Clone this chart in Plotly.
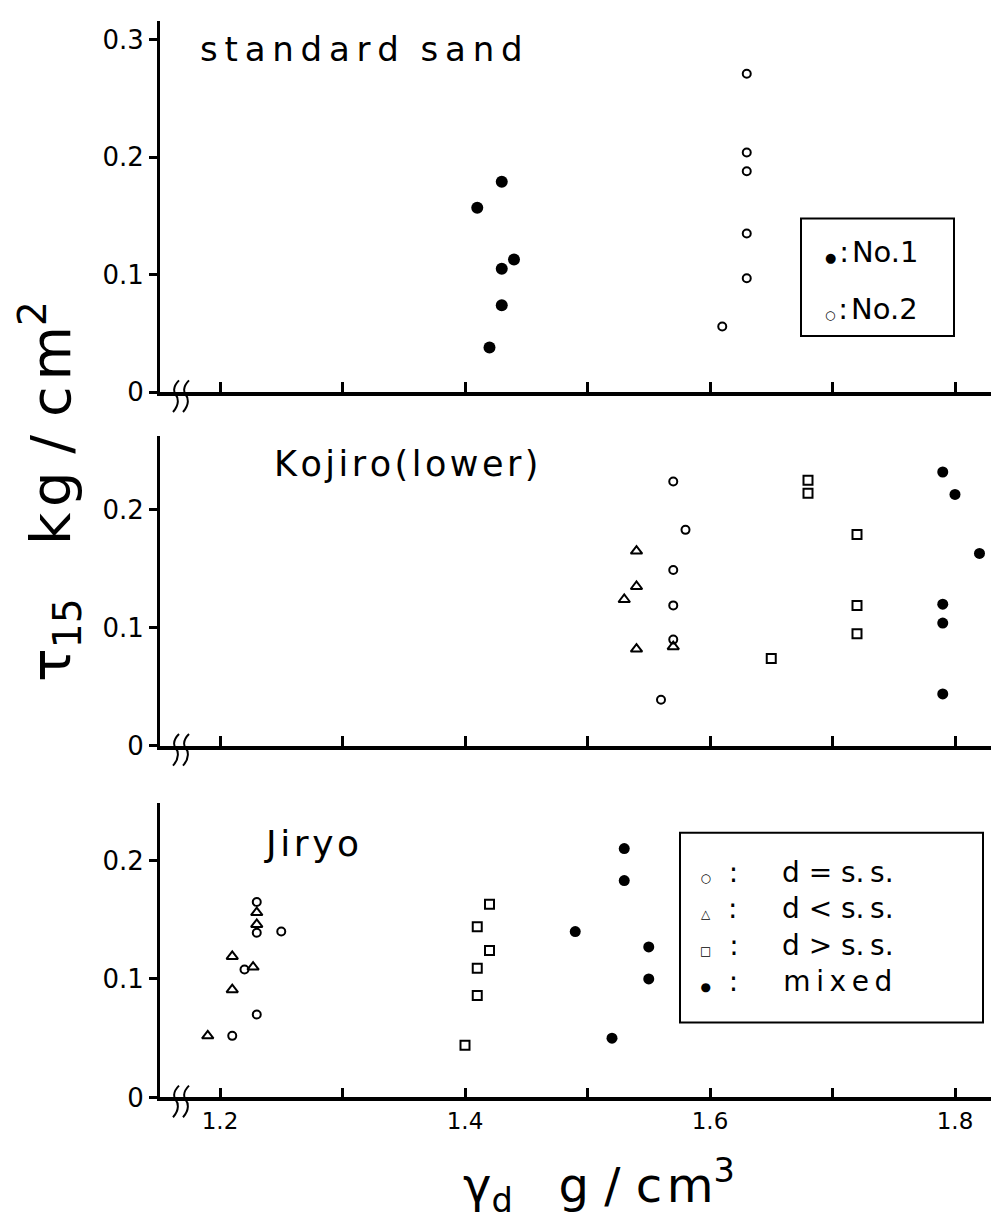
import plotly.graph_objects as go

W, H = 999, 1225

# ---------------- data ----------------
# standard sand
std_no1_x = [1.43, 1.41, 1.44, 1.43, 1.43, 1.42]
std_no1_y = [0.179, 0.157, 0.113, 0.105, 0.074, 0.038]
std_no2_x = [1.63, 1.63, 1.63, 1.63, 1.63, 1.61]
std_no2_y = [0.271, 0.204, 0.188, 0.135, 0.097, 0.056]

# Kojiro (lower)
koj_eq_x = [1.57, 1.58, 1.57, 1.57, 1.57, 1.56]
koj_eq_y = [0.224, 0.183, 0.149, 0.119, 0.090, 0.039]
koj_lt_x = [1.54, 1.54, 1.53, 1.54, 1.57]
koj_lt_y = [0.165, 0.135, 0.124, 0.082, 0.084]
koj_gt_x = [1.68, 1.68, 1.72, 1.72, 1.72, 1.65]
koj_gt_y = [0.225, 0.214, 0.179, 0.119, 0.095, 0.074]
koj_mx_x = [1.79, 1.80, 1.82, 1.79, 1.79, 1.79]
koj_mx_y = [0.232, 0.213, 0.163, 0.120, 0.104, 0.044]

# Jiryo
jir_eq_x = [1.23, 1.23, 1.25, 1.22, 1.23, 1.21]
jir_eq_y = [0.165, 0.139, 0.140, 0.108, 0.070, 0.052]
jir_lt_x = [1.23, 1.23, 1.21, 1.227, 1.21, 1.19]
jir_lt_y = [0.156, 0.146, 0.119, 0.110, 0.091, 0.052]
jir_gt_x = [1.42, 1.41, 1.42, 1.41, 1.41, 1.40]
jir_gt_y = [0.163, 0.144, 0.124, 0.109, 0.086, 0.044]
jir_mx_x = [1.53, 1.53, 1.49, 1.55, 1.55, 1.52]
jir_mx_y = [0.210, 0.183, 0.140, 0.127, 0.100, 0.050]

x_ticks = [1.2, 1.4, 1.6, 1.8]
x_ticktext = ["1.2", "1.4", "1.6", "1.8"]
top_yticks = [0, 0.1, 0.2, 0.3]
top_yticktext = ["0", "0.1", "0.2", "0.3"]
low_yticks = [0, 0.1, 0.2]
low_yticktext = ["0", "0.1", "0.2"]

# ---------------- helpers ----------------
def px(x):
    return x / W

def py(y):
    return 1 - y / H

FONT = "DejaVu Sans"
BLACK = "black"
HS = "\u200a"  # hair space for letter spacing


def spaced(s, sep=HS):
    return sep.join(list(s))


fig = go.Figure()


def add(xs, ys, sym, size, axis, lw=2):
    filled = not sym.endswith("open")
    fig.add_trace(go.Scatter(
        x=xs, y=ys, mode="markers", xaxis="x" + axis, yaxis="y" + axis,
        showlegend=False, hoverinfo="skip",
        marker=dict(symbol=sym, size=size, color=BLACK,
                    line=dict(color=BLACK, width=(0 if filled else lw))),
    ))


# top panel
add(std_no1_x, std_no1_y, "circle", 12, "")
add(std_no2_x, std_no2_y, "circle-open", 8, "")
# middle panel
add(koj_eq_x, koj_eq_y, "circle-open", 8, "2")
add(koj_lt_x, koj_lt_y, "triangle-up-open", 10, "2")
add(koj_gt_x, koj_gt_y, "square-open", 9, "2")
add(koj_mx_x, koj_mx_y, "circle", 11, "2")
# bottom panel
add(jir_eq_x, jir_eq_y, "circle-open", 8, "3")
add(jir_lt_x, jir_lt_y, "triangle-up-open", 10, "3")
add(jir_gt_x, jir_gt_y, "square-open", 9, "3")
add(jir_mx_x, jir_mx_y, "circle", 11, "3")

xrange = [1.2 - 60 / 1225, 1.2 + 787 / 1225]
xdom = [152 / W, 1.0]


def xaxis(anchor, labels):
    return dict(
        domain=xdom, range=xrange, anchor=anchor,
        showline=True, linecolor=BLACK, linewidth=3.5,
        ticks="inside", ticklen=10, tickwidth=2.5, tickcolor=BLACK,
        tickvals=x_ticks, ticktext=x_ticktext, showticklabels=labels,
        minor=dict(ticks="inside", ticklen=10, tickwidth=2.5, tickcolor=BLACK,
                   tick0=1.2, dtick=0.1, showgrid=False),
        tickfont=dict(family=FONT, size=23, color=BLACK),
        showgrid=False, zeroline=False, fixedrange=True,
    )


def yaxis(anchor, dom, rng, tv, tt):
    return dict(
        domain=dom, range=rng, anchor=anchor,
        showline=True, linecolor=BLACK, linewidth=3,
        ticks="outside", ticklen=8, tickwidth=2.5, tickcolor=BLACK,
        tickvals=tv, ticktext=tt,
        tickfont=dict(family=FONT, size=26, color=BLACK),
        showgrid=False, zeroline=False, fixedrange=True,
    )


# panel zero / top pixel rows
top0, toptop = 389, 13
mid0, midtop = 747, 433
bot0, bottop = 1103, 805

fig.update_layout(
    width=W, height=H,
    margin=dict(l=0, r=0, t=0, b=0),
    paper_bgcolor="white", plot_bgcolor="white",
    font=dict(family=FONT, color=BLACK),
    xaxis=xaxis("y", False),
    yaxis=yaxis("x", [py(top0), py(toptop)], [0, (top0 - toptop) / 1190], top_yticks, top_yticktext),
    xaxis2=xaxis("y2", False),
    yaxis2=yaxis("x2", [py(mid0), py(midtop)], [0, (mid0 - midtop) / 1195], low_yticks, low_yticktext),
    xaxis3=xaxis("y3", True),
    yaxis3=yaxis("x3", [py(bot0), py(bottop)], [0, (bot0 - bottop) / 1200], low_yticks, low_yticktext),
)

ann = []


def text(t, x, y, size, xanchor="left", **kw):
    ann.append(dict(text=t, x=px(x), y=py(y), xref="paper", yref="paper",
                    xanchor=xanchor, yanchor="middle", showarrow=False,
                    font=dict(family=FONT, size=size, color=BLACK), **kw))


# panel titles
text(spaced("standard", "\u2009") + "&nbsp;&nbsp;" + spaced("sand", "\u2009"), 190, 42, 34)
text(spaced("Kojiro(lower)"), 264, 462, 35)
text(spaced("Jiryo"), 254, 846, 36)

# axis titles
text("τ<sub>15</sub>&nbsp;&nbsp;&nbsp;" + spaced("kg") + " / " + spaced("cm") + "<sup>2</sup>",
     42, 490, 56, xanchor="center", textangle=-90)
text("γ<sub>d</sub>&nbsp;&nbsp;&nbsp;g / " + spaced("cm") + "<sup>3</sup>", 591, 1192, 48, xanchor="center")

shapes = []
# top legend
shapes.append(dict(type="rect", xref="paper", yref="paper",
                   x0=px(793), x1=px(946), y0=py(332), y1=py(213),
                   line=dict(color=BLACK, width=2), fillcolor="rgba(0,0,0,0)"))
text("<span style='font-size:13px'>●</span>" + HS + ":" + HS + "No.1", 815, 247, 29)
text("<span style='font-size:12px'>○</span>" + HS + ":" + HS + "No.2", 815, 305, 29)

# bottom legend (one block per column so rows never collide)
shapes.append(dict(type="rect", xref="paper", yref="paper",
                   x0=px(672), x1=px(975), y0=py(1027), y1=py(835),
                   line=dict(color=BLACK, width=2), fillcolor="rgba(0,0,0,0)"))
leg_syms = ["○", "△", "□", "●"]
leg_txt = ["d = s.\u2009s.", "d &lt; s.\u2009s.", "d &gt; s.\u2009s.", spaced("mixed", "\u2009")]
sym_col = "<br>".join("<span style='font-size:12px'>" + s + "</span>&nbsp;&nbsp;:" for s in leg_syms)
txt_col = "<br>".join(leg_txt)
text(sym_col, 690, 930, 28)
text(txt_col, 772, 930, 28)

# axis-break squiggles at each panel's zero line
for z in (top0, mid0, bot0):
    for x0 in (168, 178):
        pts = [(x0 + 3, z - 12), (x0 - 4, z - 5), (x0 - 2, z + 1), (x0, z + 3),
               (x0 + 2, z + 5), (x0 + 4, z + 12), (x0 - 3, z + 20)]
        p = "M {},{} C {},{} {},{} {},{} C {},{} {},{} {},{}".format(
            *[v for (a, b) in pts for v in (px(a), py(b))])
        shapes.append(dict(type="path", xref="paper", yref="paper", path=p,
                           line=dict(color=BLACK, width=2)))

fig.update_layout(annotations=ann, shapes=shapes)

fig.write_html("out.html")
